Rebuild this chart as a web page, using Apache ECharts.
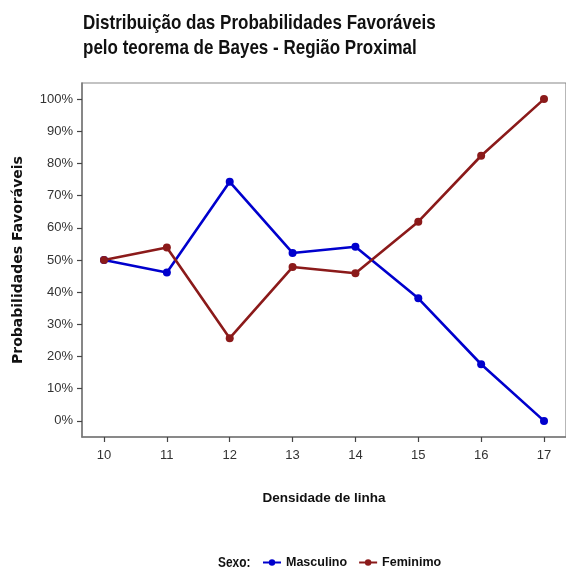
<!DOCTYPE html>
<html>
<head>
<meta charset="utf-8">
<script src="https://cdn.jsdelivr.net/npm/echarts@6/dist/echarts.min.js"></script>
<style>html,body{margin:0;padding:0;background:#fff}#c{width:566px;height:573px}</style>
</head>
<body>
<div id="c"></div>
<script>
const densidade = [10, 11, 12, 13, 14, 15, 16, 17];
const masculino = [50, 46.1, 74.3, 52.2, 54.1, 38.1, 17.6, 0];
const feminimo = [50, 53.9, 25.7, 47.8, 45.9, 61.9, 82.4, 100];
const yTicks = [0, 10, 20, 30, 40, 50, 60, 70, 80, 90, 100];
const seriesNames = ['Masculino', 'Feminimo'];
const titleLines = ['Distribuição das Probabilidades Favoráveis', 'pelo teorema de Bayes - Região Proximal'];
const legendTitle = 'Sexo:';

const sans = '"Liberation Sans", Arial, sans-serif';
const chart = echarts.init(document.getElementById('c'), null, {renderer: 'canvas'});
const mk = (arr) => densidade.map((d, i) => [d, arr[i]]);
chart.setOption({
  animation: false,
  backgroundColor: '#fff',
  grid: {left: 82, top: 83, right: -12, bottom: 136, show: true, borderColor: '#888', borderWidth: 1.2},
  legend: {
    data: seriesNames,
    left: 257, top: 551,
    itemWidth: 18, itemHeight: 8, itemGap: 11,
    textStyle: {fontFamily: sans, fontWeight: 'bold', fontSize: 12.5, color: '#111'}
  },
  graphic: [
    {type: 'text', x: 83, y: 23, scaleX: 0.81,
     style: {text: titleLines[0], fontFamily: sans, fontWeight: 'bold', fontSize: 21, fill: '#111', verticalAlign: 'middle'}},
    {type: 'text', x: 83, y: 48, scaleX: 0.81,
     style: {text: titleLines[1], fontFamily: sans, fontWeight: 'bold', fontSize: 21, fill: '#111', verticalAlign: 'middle'}},
    {type: 'text', x: 218, y: 563, scaleX: 0.85,
     style: {text: legendTitle, fontFamily: sans, fontWeight: 'bold', fontSize: 14, fill: '#111', verticalAlign: 'middle'}}
  ],
  xAxis: {
    type: 'value', min: 9.65, max: 17.35,
    name: 'Densidade de linha', nameLocation: 'middle', nameGap: 54,
    nameTextStyle: {fontFamily: sans, fontWeight: 'bold', fontSize: 13.5, color: '#111'},
    axisLine: {show: true, onZero: false, lineStyle: {color: '#777', width: 1.5}},
    axisTick: {show: true, length: 5, customValues: densidade, lineStyle: {color: '#444', width: 1.2}},
    axisLabel: {customValues: densidade, fontFamily: sans, fontSize: 13, color: '#333', margin: 12},
    splitLine: {show: false}
  },
  yAxis: {
    type: 'value', min: -5, max: 105,
    name: 'Probabilidades Favoráveis', nameLocation: 'middle', nameRotate: 90, nameGap: 57,
    nameTextStyle: {fontFamily: '"DejaVu Sans", sans-serif', fontWeight: 'bold', fontSize: 14, color: '#111'},
    axisLine: {show: true, onZero: false, lineStyle: {color: '#777', width: 1.5}},
    axisTick: {show: true, length: 5, customValues: yTicks, lineStyle: {color: '#444', width: 1.2}},
    axisLabel: {customValues: yTicks, formatter: '{value}%', fontFamily: sans, fontSize: 13, color: '#333', margin: 9},
    splitLine: {show: false}
  },
  series: [
    {name: seriesNames[0], type: 'line', data: mk(masculino), color: '#0000CD',
     symbol: 'circle', symbolSize: 8, lineStyle: {width: 2.6}},
    {name: seriesNames[1], type: 'line', data: mk(feminimo), color: '#8B1A1A',
     symbol: 'circle', symbolSize: 8, lineStyle: {width: 2.6}}
  ]
});
</script>
</body>
</html>
